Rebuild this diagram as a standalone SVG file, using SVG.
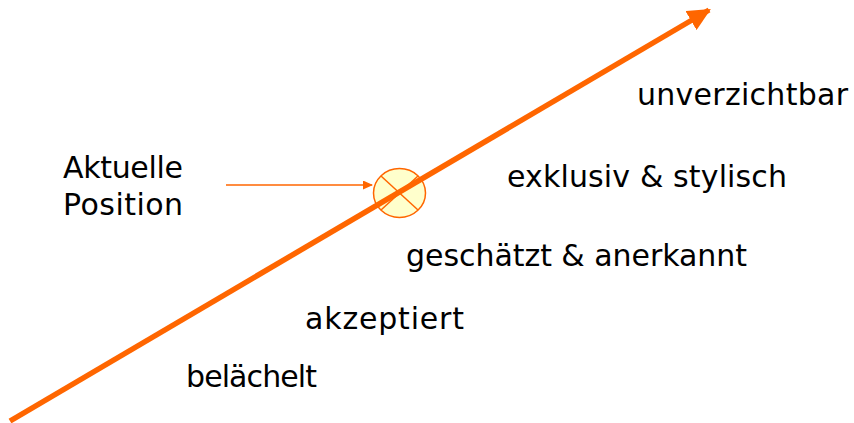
<svg xmlns="http://www.w3.org/2000/svg" width="854" height="423" viewBox="0 0 854 423">
<style>
text{font-family:"DejaVu Sans",Verdana,sans-serif;font-size:30px;fill:#000}
</style>
<defs>
<marker id="big" markerWidth="4.2" markerHeight="4" refX="3.8" refY="2" orient="auto" markerUnits="strokeWidth"><path d="M0,0 L4.2,2 L0,4 Z" fill="#ff6600"/></marker>
<marker id="small" markerWidth="10" markerHeight="9" refX="9" refY="4.5" orient="auto" markerUnits="userSpaceOnUse"><path d="M0,0 L10,4.5 L0,9 Z" fill="#ff6600"/></marker>
</defs>
<g id="marker-node">
<ellipse cx="399.5" cy="193" rx="26" ry="24.5" fill="#ffffcc" stroke="#ff6600" stroke-width="1.5"/>
<line x1="381" y1="176" x2="418" y2="210" stroke="#ff6600" stroke-width="1.5"/>
<line x1="381" y1="210" x2="418" y2="176" stroke="#ff6600" stroke-width="1.5"/>
</g>
<g id="connectors">
<line x1="10" y1="421" x2="709" y2="10" stroke="#ff6600" stroke-width="5.5" marker-end="url(#big)"/>
<line x1="226" y1="185" x2="372" y2="185" stroke="#ff6600" stroke-width="1.5" marker-end="url(#small)"/>
</g>
<g id="labels">
<text x="637" y="105" textLength="211" lengthAdjust="spacing">unverzichtbar</text>
<text x="507" y="187" textLength="280" lengthAdjust="spacing">exklusiv &amp; stylisch</text>
<text x="406" y="266" textLength="341" lengthAdjust="spacing">geschätzt &amp; anerkannt</text>
<text x="305" y="329" textLength="159" lengthAdjust="spacing">akzeptiert</text>
<text x="186" y="387" textLength="131" lengthAdjust="spacing">belächelt</text>
<text x="63" y="178" textLength="120" lengthAdjust="spacing">Aktuelle</text>
<text x="63" y="215" textLength="120" lengthAdjust="spacing">Position</text>
</g>
</svg>
